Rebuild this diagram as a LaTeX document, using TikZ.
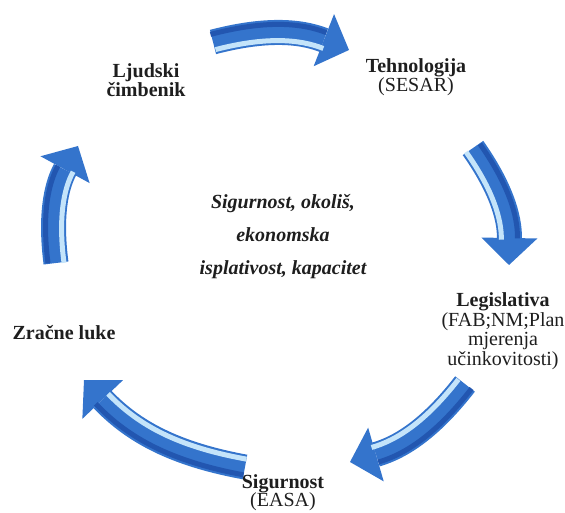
\documentclass[tikz,border=0pt]{standalone}
\usepackage{fontspec}
\setmainfont{Liberation Serif}
\usetikzlibrary{arrows.meta,calc,positioning}
\definecolor{arrowblue}{RGB}{52,116,204}
\definecolor{shineblue}{RGB}{196,228,250}
\definecolor{deepblue}{RGB}{34,86,176}
\definecolor{inkgray}{RGB}{30,30,30}

\begin{document}
\begin{tikzpicture}[x=1pt,y=1pt,>=Stealth,bend angle=18]

	\tikzstyle{txt}=[
		align=center,
		inner sep=0pt,
		text=inkgray,
		font=\fontsize{20}{19.5}\selectfont
	]
	\tikzstyle{cyc}=[
		line width=25pt,
		draw=arrowblue,
		-{Triangle[length=27pt,width=56pt,line width=0pt]}
	]
	\tikzstyle{shine}=[
		line width=5pt,
		draw=shineblue,
		shorten >=25pt
	]
	\tikzstyle{shade}=[
		line width=5pt,
		draw=deepblue,
		shorten >=27pt
	]

	\useasboundingbox (0,0) rectangle (565,512);

	\coordinate (ctr) at (283,255);

	\node [txt, font=\fontsize{20}{33}\selectfont\bfseries\itshape] (goals) at (283,275) {Sigurnost, okoliš,\\ekonomska\\isplativost, kapacitet};

	\node [txt, font=\fontsize{20}{19.5}\selectfont\bfseries] (human) at (146,432) {Ljudski\\čimbenik};
	\node [txt] (tech) at (416,435) {\textbf{Tehnologija}\\(SESAR)};
	\node [txt] (legis) at (503,181) {\textbf{Legislativa}\\(FAB;NM;Plan\\mjerenja\\učinkovitosti)};
	\node [txt, font=\fontsize{20}{18.5}\selectfont] (safety) [anchor=south] at (283,1) {\textbf{Sigurnost}\\(EASA)};
	\node [txt, font=\fontsize{20}{19.5}\selectfont\bfseries] (airports) at (64,179) {Zračne luke};

	% arrow ends
	\coordinate (t1) at (213,470); \coordinate (h1) at (349,462);
	\coordinate (t2) at (473,364); \coordinate (h2) at (509,247);
	\coordinate (t3) at (465,128); \coordinate (h3) at (350,50);
	\coordinate (t4) at (245,45);  \coordinate (h4) at (84,132);
	\coordinate (t5) at (56,249);  \coordinate (h5) at (78,366);

	\draw[cyc] (t1) to[bend left] (h1);
	\draw[cyc] (t2) to[bend left] (h2);
	\draw[cyc] (t3) to[bend left] (h3);
	\draw[cyc] (t4) to[bend left] (h4);
	\draw[cyc] (t5) to[bend left] (h5);

	\draw[shade] ($(t1)!-8pt!(ctr)$) to[bend left] ($(h1)!-8pt!(ctr)$);
	\draw[shade] ($(t2)!-8pt!(ctr)$) to[bend left] ($(h2)!-8pt!(ctr)$);
	\draw[shade] ($(t3)!-8pt!(ctr)$) to[bend left] ($(h3)!-8pt!(ctr)$);
	\draw[shade] ($(t4)!-8pt!(ctr)$) to[bend left] ($(h4)!-8pt!(ctr)$);
	\draw[shade] ($(t5)!-8pt!(ctr)$) to[bend left] ($(h5)!-8pt!(ctr)$);

	\draw[shine] ($(t1)!8pt!(ctr)$) to[bend left] ($(h1)!8pt!(ctr)$);
	\draw[shine] ($(t2)!8pt!(ctr)$) to[bend left] ($(h2)!8pt!(ctr)$);
	\draw[shine] ($(t3)!8pt!(ctr)$) to[bend left] ($(h3)!8pt!(ctr)$);
	\draw[shine] ($(t4)!8pt!(ctr)$) to[bend left] ($(h4)!8pt!(ctr)$);
	\draw[shine] ($(t5)!8pt!(ctr)$) to[bend left] ($(h5)!8pt!(ctr)$);

\end{tikzpicture}
\end{document}
